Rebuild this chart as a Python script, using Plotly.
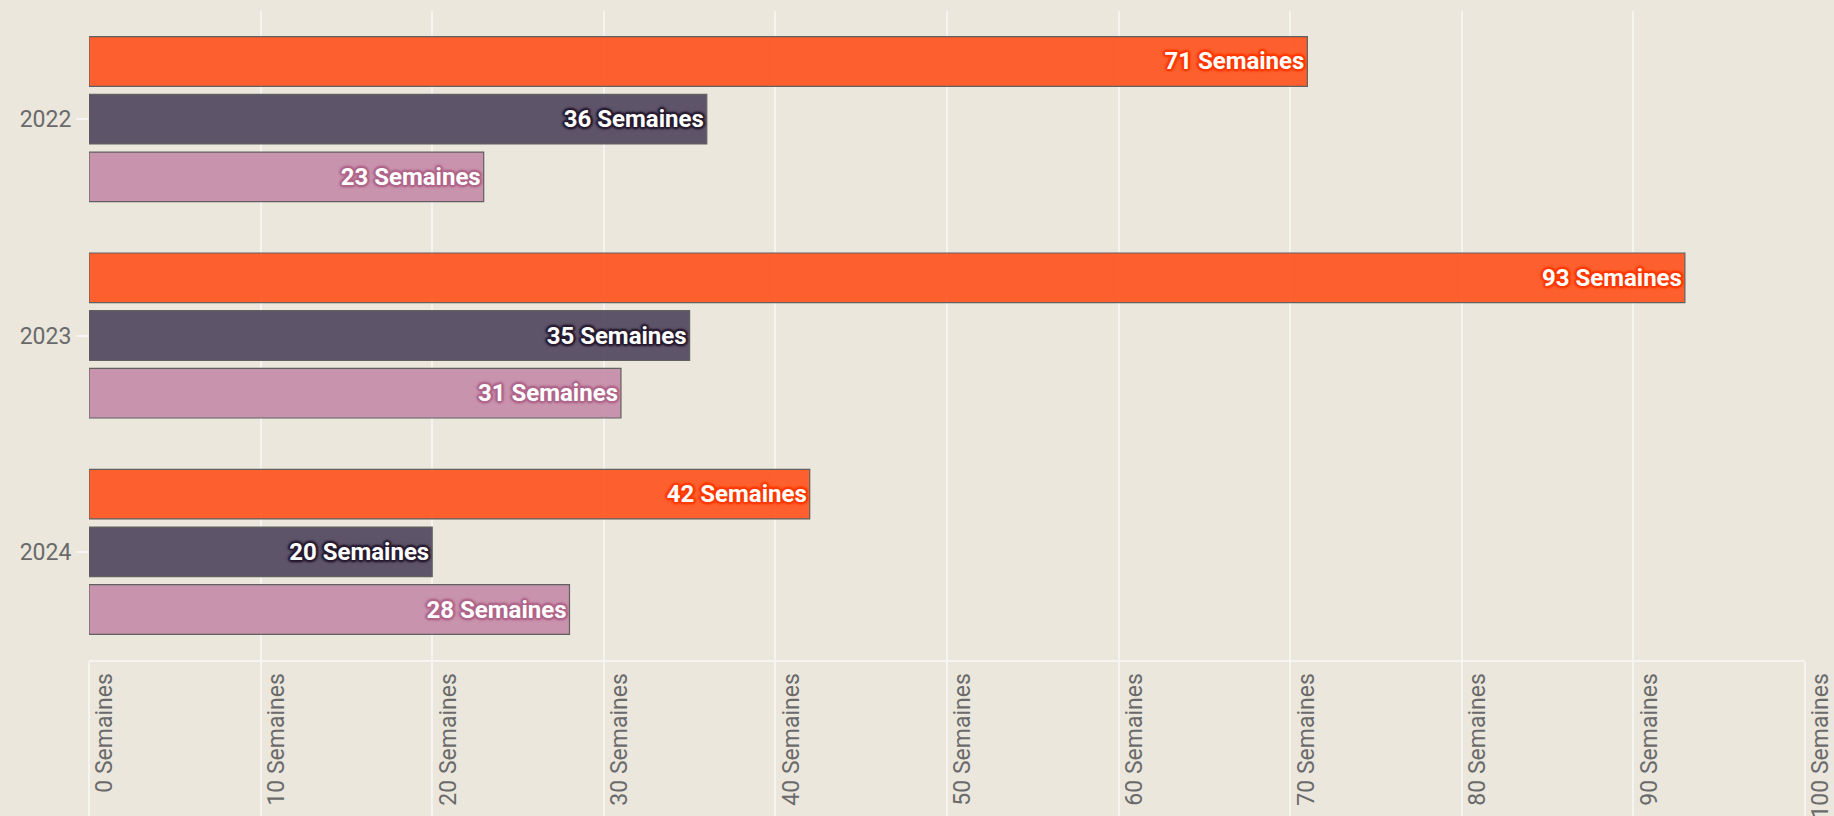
import plotly.graph_objects as go

years = ["2022", "2023", "2024"]
series_names = ["Série A", "Série B", "Série C"]
values_a = [71, 93, 42]
values_b = [36, 35, 20]
values_c = [23, 31, 28]
x_ticks = [0, 10, 20, 30, 40, 50, 60, 70, 80, 90, 100]
x_tick_labels = [f"{v} Semaines" for v in x_ticks]

bar_colors = ["#FF5925", "#574D63", "#C78FAA"]
glow_colors = ["#FF3A00", "#2A1E33", "#B0668A"]
series_values = [values_a, values_b, values_c]

BG = "#EBE7DD"
GRID = "#F5F4F0"


def glow(c):
    offs = [(1, 0), (-1, 0), (0, 1), (0, -1), (1, 1), (-1, -1), (1, -1), (-1, 1),
            (2, 0), (-2, 0), (0, 2), (0, -2)]
    parts = [f"{dx}px {dy}px 2px {c}" for dx, dy in offs]
    parts.append(f"0px 0px 4px {c}")
    return ", ".join(parts)


fig = go.Figure()
for name, vals, col, gcol in zip(series_names, series_values, bar_colors, glow_colors):
    fig.add_trace(go.Bar(
        y=years,
        x=vals,
        name=name,
        orientation="h",
        marker=dict(color=col, opacity=0.95, line=dict(color="#5A5A5A", width=1.2)),
        text=[f"{v} Semaines" for v in vals],
        texttemplate="%{text}",
        textposition="inside",
        insidetextanchor="end",
        textangle=0,
        constraintext="none",
        textfont=dict(family="Roboto", size=24, color="white", weight="bold",
                      shadow=glow(gcol)),
        hoverinfo="skip",
    ))

fig.update_layout(
    width=1834,
    height=816,
    barmode="group",
    bargap=0.2,
    bargroupgap=0.14,
    paper_bgcolor=BG,
    plot_bgcolor=BG,
    showlegend=False,
    margin=dict(l=89, r=29, t=11, b=156, autoexpand=False),
    font=dict(family="Roboto", color="#666666"),
)

fig.update_xaxes(
    range=[0, 100],
    tickmode="array",
    tickvals=x_ticks,
    ticktext=x_tick_labels,
    tickangle=-90,
    tickfont=dict(family="Roboto", size=23, color="#6A6A6A"),
    ticklabeloverflow="allow",
    showgrid=True,
    gridcolor=GRID,
    gridwidth=2,
    zeroline=False,
    showline=True,
    linecolor=GRID,
    linewidth=2,
    ticks="outside",
    ticklen=160,
    tickwidth=2,
    tickcolor=GRID,
    ticklabelstandoff=-158,
    ticklabelshift=16,
    automargin=False,
    fixedrange=True,
)

fig.update_yaxes(
    autorange="reversed",
    type="category",
    tickfont=dict(family="Roboto", size=23, color="#6A6A6A"),
    showgrid=False,
    zeroline=False,
    showline=False,
    ticks="outside",
    ticklen=12,
    tickwidth=2,
    tickcolor=GRID,
    automargin=False,
    fixedrange=True,
)

fig.write_html(
    "out.html",
    config={"displayModeBar": False},
    post_script=(
        "document.body.style.margin='0';"
        f"document.body.style.background='{BG}';"
        "document.body.style.overflow='hidden';"
    ),
)
